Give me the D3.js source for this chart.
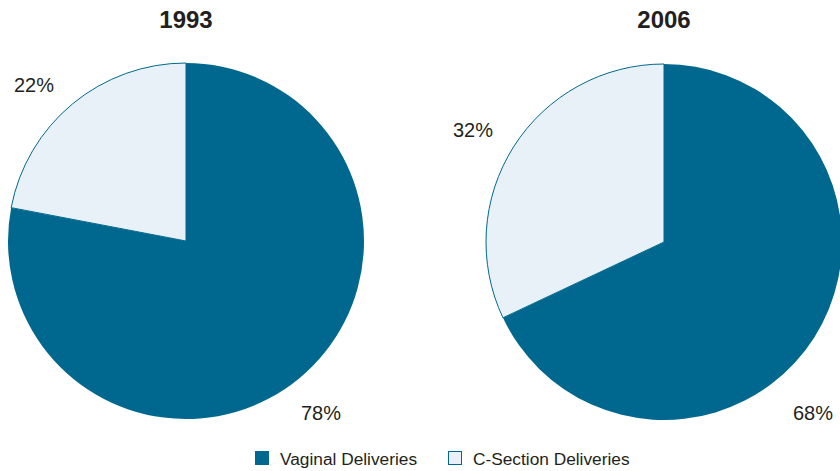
<!DOCTYPE html>
<html><head><meta charset="utf-8">
<script src="https://cdn.jsdelivr.net/npm/d3@7"></script>
<style>body{margin:0;background:#fff}svg{display:block;font-family:"Liberation Sans",Arial,sans-serif}</style>
</head><body>
<svg id="c" width="840" height="471"></svg>
<script>
const years = ["1993", "2006"];
const categories = ["Vaginal Deliveries", "C-Section Deliveries"];
const vaginal = [78, 68];
const cesarean = [22, 32];
const colors = ["#00688e", "#e8f1f8"];

// layout (not data)
const centers = [[186, 241], [664, 242]];
const R = 178;
const labelPos = [[[321, 420], [34, 92]], [[813, 420], [473, 137]]];

const svg = d3.select("#c");
const pie = d3.pie().sort(null).value(d => d.v);
const arc = d3.arc().innerRadius(0).outerRadius(R);

years.forEach((yr, i) => {
  const data = [{k: categories[0], v: vaginal[i]}, {k: categories[1], v: cesarean[i]}];
  const g = svg.append("g").attr("transform", `translate(${centers[i][0]},${centers[i][1]})`);
  g.selectAll("path").data(pie(data)).join("path")
    .attr("d", arc)
    .attr("fill", (d, j) => colors[j])
    .attr("stroke", (d, j) => j === 1 ? colors[0] : "none")
    .attr("stroke-width", 1);
  svg.append("text").attr("x", centers[i][0]).attr("y", 28)
    .attr("text-anchor", "middle").attr("font-weight", "bold").attr("font-size", 24)
    .attr("fill", "#231f20").text(yr);
  data.forEach((d, j) => {
    svg.append("text").attr("x", labelPos[i][j][0]).attr("y", labelPos[i][j][1])
      .attr("text-anchor", "middle").attr("font-size", 20).attr("fill", "#231f20")
      .text(d.v + "%");
  });
});

const legX = [255, 448];
categories.forEach((c, j) => {
  svg.append("rect").attr("x", legX[j] + 0.5).attr("y", 451.5).attr("width", 13).attr("height", 13)
    .attr("fill", colors[j]).attr("stroke", colors[0]).attr("stroke-width", 1);
  svg.append("text").attr("x", legX[j] + 25).attr("y", 465).attr("font-size", 17.3)
    .attr("fill", "#231f20").text(c);
});
</script>
</body></html>
